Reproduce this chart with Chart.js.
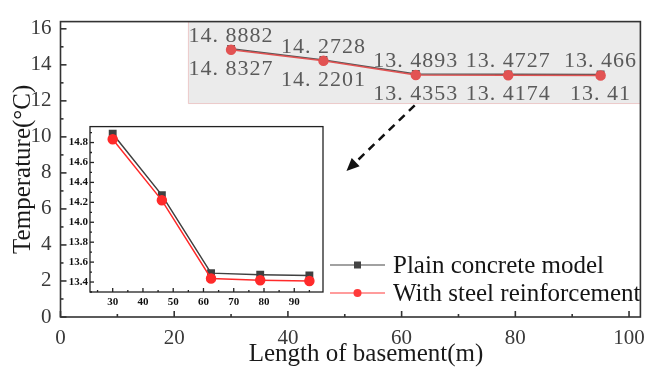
<!DOCTYPE html>
<html>
<head>
<meta charset="utf-8">
<script src="https://cdn.jsdelivr.net/npm/chart.js@4.4.1/dist/chart.umd.min.js"></script>
<style>
  body { margin: 0; background: #fff; }
  #wrap { position: relative; width: 654px; height: 369px; }
  #mainChart { position: absolute; left: 0; top: 0; }
  #insetChart { position: absolute; left: 62px; top: 118px; }
</style>
</head>
<body>
<div id="wrap">
  <canvas id="mainChart" width="654" height="369"></canvas>
  <canvas id="insetChart" width="268" height="192"></canvas>
</div>
<script>
// data
const lengths = [30, 46.25, 62.5, 78.75, 95];
const plainVals = [14.8882, 14.2728, 13.4893, 13.4727, 13.466];
const steelVals = [14.8327, 14.2201, 13.4353, 13.4174, 13.41];
const seriesNames = ["Plain concrete model", "With steel reinforcement"];

const mainXTicks = [0, 20, 40, 60, 80, 100];
const mainYTicks = [0, 2, 4, 6, 8, 10, 12, 14, 16];
const insetXTicks = [30, 40, 50, 60, 70, 80, 90];
const insetYTicks = [13.4, 13.6, 13.8, 14.0, 14.2, 14.4, 14.6, 14.8];

const serif = "'Liberation Serif', 'Times New Roman', serif";

const toPoints = (vals) => vals.map((v, i) => ({ x: lengths[i], y: v }));
const fmtLabel = (v) => String(v).replace(".", ". ");

// draws box + inward ticks (major + minor at midpoints)
function boxAndTicks(major, minor, color, width) {
  return {
    id: "boxTicks",
    afterDatasetsDraw(chart) {
      const { ctx, chartArea: a, scales } = chart;
      ctx.save();
      ctx.strokeStyle = color;
      ctx.lineWidth = width;
      ctx.strokeRect(a.left, a.top, a.right - a.left, a.bottom - a.top);
      ["x", "y"].forEach((id) => {
        const s = scales[id];
        const vals = s.ticks.map((t) => t.value);
        const step = vals[1] - vals[0];
        const minors = [];
        for (let v = vals[0] - step / 2; v <= s.max + 1e-9; v += step) {
          if (v >= s.min - 1e-9) minors.push(v);
        }
        const draw = (v, len) => {
          const p = s.getPixelForValue(v);
          ctx.beginPath();
          if (id === "x") {
            ctx.moveTo(p, a.bottom);
            ctx.lineTo(p, a.bottom - len);
          } else {
            ctx.moveTo(a.left, p);
            ctx.lineTo(a.left + len, p);
          }
          ctx.stroke();
        };
        vals.forEach((v) => draw(v, major));
        minors.forEach((v) => draw(v, minor));
      });
      ctx.restore();
    },
  };
}

// grey highlight box, labels, arrow, legend, titles on the main chart
const mainDecor = {
  id: "mainDecor",
  beforeDatasetsDraw(chart) {
    const { ctx, chartArea: a, scales: { x, y } } = chart;
    const left = x.getPixelForValue(22.5);
    const bottom = y.getPixelForValue(11.85);
    ctx.save();
    ctx.fillStyle = "#ebebeb";
    ctx.fillRect(left, a.top, a.right - left, bottom - a.top);
    ctx.strokeStyle = "rgba(230,160,160,0.5)";
    ctx.lineWidth = 1;
    ctx.beginPath();
    ctx.moveTo(left, a.top);
    ctx.lineTo(left, bottom);
    ctx.lineTo(a.right, bottom);
    ctx.stroke();
    ctx.restore();
  },
  afterDatasetsDraw(chart) {
    const { ctx, chartArea: a, scales: { x, y } } = chart;
    ctx.save();
    // value labels
    ctx.font = "22px " + serif;
    ctx.letterSpacing = "1px";
    ctx.fillStyle = "#5a5a5a";
    ctx.textAlign = "center";
    ctx.textBaseline = "alphabetic";
    lengths.forEach((len, i) => {
      const px = x.getPixelForValue(len);
      ctx.fillText(fmtLabel(plainVals[i]), px, y.getPixelForValue(plainVals[i]) - 7);
      ctx.fillText(fmtLabel(steelVals[i]), px, y.getPixelForValue(steelVals[i]) + 25);
    });
    ctx.letterSpacing = "0px";

    // dashed arrow
    const x1 = x.getPixelForValue(62.3), y1 = y.getPixelForValue(11.75);
    const x2 = x.getPixelForValue(50.3), y2 = y.getPixelForValue(8.1);
    const ang = Math.atan2(y2 - y1, x2 - x1);
    const head = 14;
    ctx.strokeStyle = "#111";
    ctx.lineWidth = 2.5;
    ctx.setLineDash([8, 6]);
    ctx.beginPath();
    ctx.moveTo(x1, y1);
    ctx.lineTo(x2 - head * Math.cos(ang), y2 - head * Math.sin(ang));
    ctx.stroke();
    ctx.setLineDash([]);
    ctx.fillStyle = "#111";
    ctx.beginPath();
    ctx.moveTo(x2, y2);
    ctx.lineTo(x2 - head * Math.cos(ang - 0.42), y2 - head * Math.sin(ang - 0.42));
    ctx.lineTo(x2 - head * Math.cos(ang + 0.42), y2 - head * Math.sin(ang + 0.42));
    ctx.closePath();
    ctx.fill();

    // legend
    const rows = [
      { name: seriesNames[0], color: "#444", shape: "rect", y: 265 },
      { name: seriesNames[1], color: "#ff3a3a", shape: "circle", y: 293 },
    ];
    ctx.font = "25px " + serif;
    ctx.textAlign = "left";
    ctx.textBaseline = "middle";
    rows.forEach((r) => {
      ctx.strokeStyle = r.color;
      ctx.lineWidth = 1.2;
      ctx.beginPath();
      ctx.moveTo(330, r.y);
      ctx.lineTo(385, r.y);
      ctx.stroke();
      ctx.fillStyle = r.color;
      if (r.shape === "rect") {
        ctx.fillRect(354, r.y - 3.5, 7, 7);
      } else {
        ctx.beginPath();
        ctx.arc(357.5, r.y, 4, 0, Math.PI * 2);
        ctx.fill();
      }
      ctx.fillStyle = "#151515";
      ctx.fillText(r.name, 393, r.y + 1);
    });

    // axis titles
    ctx.font = "25px " + serif;
    ctx.fillStyle = "#1a1a1a";
    ctx.textAlign = "center";
    ctx.textBaseline = "alphabetic";
    ctx.fillText("Length of basement(m)", 366, 361);
    ctx.translate(30, (a.top + a.bottom) / 2);
    ctx.rotate(-Math.PI / 2);
    ctx.fillText("Temperature(\u00B0C)", 0, 0);
    ctx.restore();
  },
};

const mainChart = new Chart(document.getElementById("mainChart"), {
  type: "line",
  data: {
    datasets: [
      {
        label: seriesNames[0],
        data: toPoints(plainVals),
        borderColor: "#555",
        backgroundColor: "#555",
        borderWidth: 1.5,
        pointStyle: "rect",
        pointRadius: 4.5,
        order: 2,
      },
      {
        label: seriesNames[1],
        data: toPoints(steelVals),
        borderColor: "#e25353",
        backgroundColor: "#e25353",
        borderWidth: 1.5,
        pointStyle: "circle",
        pointRadius: 4.5,
        order: 1,
      },
    ],
  },
  options: {
    responsive: false,
    devicePixelRatio: 1,
    animation: false,
    layout: { padding: { top: 12, right: 11, left: 0, bottom: 0 } },
    plugins: { legend: { display: false }, tooltip: { enabled: false } },
    scales: {
      x: {
        type: "linear",
        min: 0,
        max: 102,
        afterBuildTicks: (s) => { s.ticks = mainXTicks.map((v) => ({ value: v })); },
        afterFit: (s) => { s.height = 52; },
        grid: { display: false, drawTicks: false },
        border: { display: false },
        ticks: { padding: 9, color: "#3a3a3a", font: { family: serif, size: 21 }, maxRotation: 0 },
      },
      y: {
        min: 0,
        max: 16.4,
        afterBuildTicks: (s) => { s.ticks = mainYTicks.map((v) => ({ value: v })); },
        afterFit: (s) => { s.width = 60.5; },
        grid: { display: false, drawTicks: false },
        border: { display: false },
        ticks: { padding: 9, color: "#3a3a3a", font: { family: serif, size: 21 } },
      },
    },
  },
  plugins: [mainDecor, boxAndTicks(6, 3, "#333", 1.6)],
});

const insetChart = new Chart(document.getElementById("insetChart"), {
  type: "line",
  data: {
    datasets: [
      {
        label: seriesNames[0],
        data: toPoints(plainVals),
        borderColor: "#404040",
        backgroundColor: "#404040",
        borderWidth: 1.5,
        pointStyle: "rect",
        pointRadius: 4.5,
        order: 2,
      },
      {
        label: seriesNames[1],
        data: toPoints(steelVals),
        borderColor: "#ff2a2a",
        backgroundColor: "#ff2a2a",
        borderWidth: 1.5,
        pointStyle: "circle",
        pointRadius: 4.5,
        order: 1,
      },
    ],
  },
  options: {
    responsive: false,
    devicePixelRatio: 1,
    animation: false,
    layout: { padding: { top: 8, right: 7, left: 0, bottom: 0 } },
    plugins: { legend: { display: false }, tooltip: { enabled: false } },
    scales: {
      x: {
        type: "linear",
        min: 22.5,
        max: 99.5,
        afterBuildTicks: (s) => { s.ticks = insetXTicks.map((v) => ({ value: v })); },
        afterFit: (s) => { s.height = 18; },
        grid: { display: false, drawTicks: false },
        border: { display: false },
        ticks: { padding: 4, color: "#111", font: { family: serif, size: 11, weight: "bold" }, maxRotation: 0 },
      },
      y: {
        min: 13.3,
        max: 14.96,
        afterBuildTicks: (s) => { s.ticks = insetYTicks.map((v) => ({ value: v })); },
        afterFit: (s) => { s.width = 28; },
        grid: { display: false, drawTicks: false },
        border: { display: false },
        ticks: {
          padding: 2,
          color: "#111",
          font: { family: serif, size: 11, weight: "bold" },
          callback: (v) => Number(v).toFixed(1),
        },
      },
    },
  },
  plugins: [boxAndTicks(4, 2, "#222", 1.3)],
});
</script>
</body>
</html>
